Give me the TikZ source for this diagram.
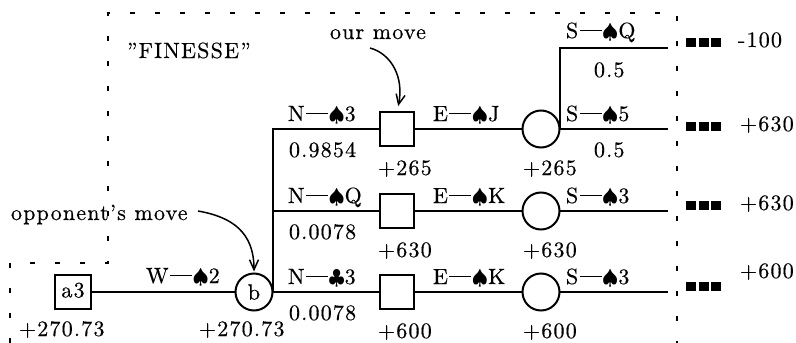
\documentclass[tikz,border=0pt]{standalone}
\usepackage{fontspec}
\setmainfont{lmroman10-regular.otf}[LetterSpace=5.5, FakeBold=0.4]
\usetikzlibrary{arrows.meta}
\newcommand{\bsq}{\rule{10pt}{9pt}}
\newcommand{\spd}{$\spadesuit$}
\newcommand{\clb}{$\clubsuit$}
\newcommand{\dsh}{\hspace{1.5pt}\rule[7pt]{22pt}{1.4pt}\hspace{0.5pt}}
\begin{document}
\begin{tikzpicture}[x=1pt,y=-1pt,
  every node/.style={inner sep=0pt, outer sep=0pt, font=\fontsize{22}{26}\selectfont},
  lbl/.style={anchor=base west},
  decision/.style={draw, line width=2pt, minimum width=34pt, minimum height=34pt},
  chance/.style={draw, circle, line width=2pt, minimum size=37pt},
  edge/.style={line width=2pt},
  frame/.style={line width=1.8pt, dash pattern=on 5pt off 20pt},
  callout/.style={line width=1.5pt, -{Straight Barb[length=10pt,width=9pt]}}
]
\useasboundingbox (0,0) rectangle (796,343);
% frame
\draw[frame] (10,343) -- (10,263) -- (108,263) -- (108,13) -- (677,13) -- (677,343);
% nodes
\node[decision, minimum width=36pt, text depth=4pt] (a3) at (73,292) {a3};
\node[chance] (b) at (254,292) {b};
\node[decision] (s1) at (397,129) {};
\node[decision] (s2) at (397,211) {};
\node[decision] (s3) at (397,292) {};
\node[chance] (c1) at (541,129) {};
\node[chance] (c2) at (541,211) {};
\node[chance] (c3) at (541,292) {};
\coordinate (t0) at (668,48);
\coordinate (t1) at (668,129);
\coordinate (t2) at (668,211);
\coordinate (t3) at (668,292);
% edges
\draw[edge] (a3) -- (b);
\draw[edge] (b.east) -- (s3.west);
\draw[edge] (b.east) |- (s2.west);
\draw[edge] (b.east) |- (s1.west);
\draw[edge] (s1) -- (c1);
\draw[edge] (s2) -- (c2);
\draw[edge] (s3) -- (c3);
\draw[edge] (c1.east) -- (t1);
\draw[edge] (c1.east) |- (t0);
\draw[edge] (c2.east) -- (t2);
\draw[edge] (c3.east) -- (t3);
% labels
\node[lbl] (lw) at (146,283) {W\dsh\spd2};
\node[lbl] (v1) at (19,336) {+270.73};
\node[lbl] (v2) at (199,336) {+270.73};
\node[lbl] (n1) at (288,121) {N\dsh\spd3};
\node[lbl] (p1) at (289,157) {0.9854};
\node[lbl] (e1) at (433,121) {E\dsh\spd J};
\node[lbl] (u1) at (378,175) {+265};
\node[lbl] (w1) at (523,175) {+265};
\node[lbl] (n2) at (288,203) {N\dsh\spd Q};
\node[lbl] (p2) at (289,239) {0.0078};
\node[lbl] (e2) at (433,203) {E\dsh\spd K};
\node[lbl] (u2) at (378,257) {+630};
\node[lbl] (w2) at (523,257) {+630};
\node[lbl] (n3) at (288,284) {N\dsh\clb3};
\node[lbl] (p3) at (289,320) {0.0078};
\node[lbl] (e3) at (433,284) {E\dsh\spd K};
\node[lbl] (u3) at (378,338) {+600};
\node[lbl] (w3) at (523,338) {+600};
\node[lbl] (sq) at (566,38) {S\dsh\spd Q};
\node[lbl] (h1) at (594,77) {0.5};
\node[lbl] (s5) at (566,121) {S\dsh\spd5};
\node[lbl] (h2) at (594,157) {0.5};
\node[lbl] (s32) at (566,203) {S\dsh\spd3};
\node[lbl] (s33) at (566,284) {S\dsh\spd3};
% outcomes
\node[lbl] (r0) at (686,47) {\bsq\hspace{2.5pt}\bsq\hspace{2.5pt}\bsq};
\node[lbl] (r1) at (686,131) {\bsq\hspace{2.5pt}\bsq\hspace{2.5pt}\bsq};
\node[lbl] (r2) at (686,210) {\bsq\hspace{2.5pt}\bsq\hspace{2.5pt}\bsq};
\node[lbl] (r3) at (686,291) {\bsq\hspace{2.5pt}\bsq\hspace{2.5pt}\bsq};
\node[lbl] (o0) at (738,47) {-100};
\node[lbl] (o1) at (740,131) {+630};
\node[lbl] (o2) at (740,210) {+630};
\node[lbl] (o3) at (740,278) {+600};
% titles
\node[lbl] (fin) at (127,58) {”FINESSE”};
\node[lbl] (om) at (330,39) {our move};
\node[lbl] (op) at (11,220) {opponent’s move};
\coordinate (omstart) at (370,48);
\coordinate (opstart) at (198,211);
\draw[callout, shorten >=6pt] (omstart) .. controls (392,54) and (404,78) .. (s1.north);
\draw[callout, shorten >=2pt] (opstart) .. controls (232,217) and (254,232) .. (b.north);
\end{tikzpicture}
\end{document}
